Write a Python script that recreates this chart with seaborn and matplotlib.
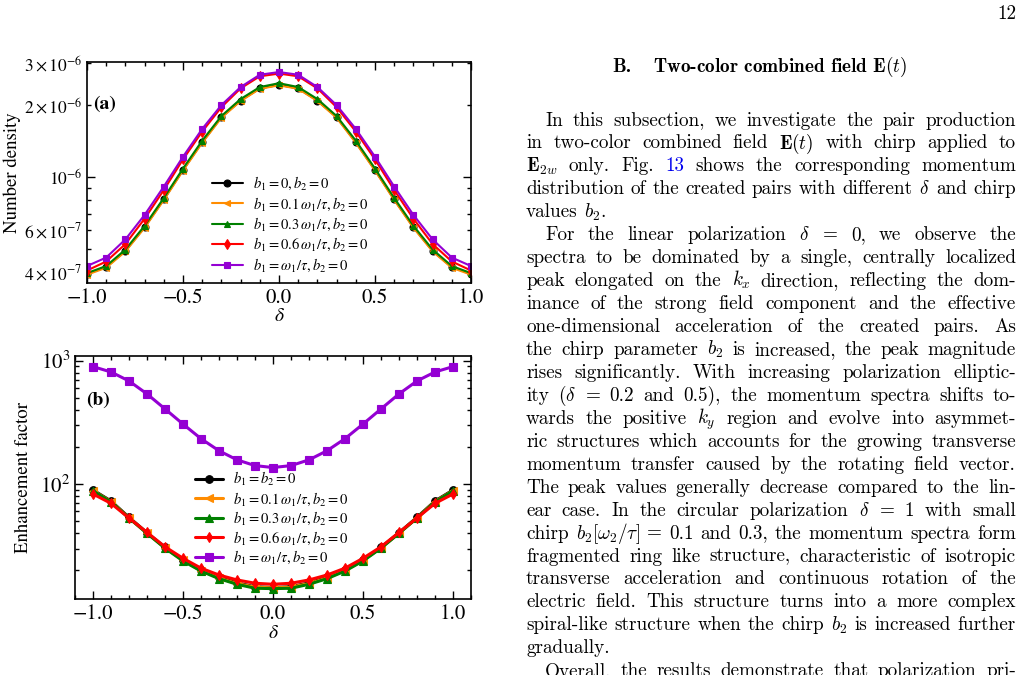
import matplotlib
matplotlib.use("Agg")
import matplotlib.pyplot as plt
import matplotlib.ticker as ticker
import seaborn as sns

# ── data ────────────────────────────────────────────────────────────────────
DELTA = [-1.0, -0.9, -0.8, -0.7, -0.6, -0.5, -0.4, -0.3, -0.2, -0.1, 0.0,
         0.1, 0.2, 0.3, 0.4, 0.5, 0.6, 0.7, 0.8, 0.9, 1.0]

# (a) number density
ND_B0   = [3.93e-7, 4.20e-7, 4.91e-7, 6.17e-7, 8.06e-7, 1.07e-6, 1.40e-6, 1.78e-6, 2.09e-6, 2.35e-6, 2.43e-6,
           2.35e-6, 2.09e-6, 1.78e-6, 1.40e-6, 1.07e-6, 8.06e-7, 6.17e-7, 4.91e-7, 4.20e-7, 3.93e-7]
ND_B01  = [3.90e-7, 4.17e-7, 4.88e-7, 6.13e-7, 8.01e-7, 1.064e-6, 1.39e-6, 1.77e-6, 2.08e-6, 2.34e-6, 2.42e-6,
           2.34e-6, 2.08e-6, 1.77e-6, 1.39e-6, 1.064e-6, 8.01e-7, 6.13e-7, 4.88e-7, 4.17e-7, 3.90e-7]
ND_B03  = [3.96e-7, 4.24e-7, 4.97e-7, 6.25e-7, 8.17e-7, 1.085e-6, 1.42e-6, 1.80e-6, 2.12e-6, 2.38e-6, 2.47e-6,
           2.38e-6, 2.12e-6, 1.80e-6, 1.42e-6, 1.085e-6, 8.17e-7, 6.25e-7, 4.97e-7, 4.24e-7, 3.96e-7]
ND_B06  = [4.06e-7, 4.43e-7, 5.24e-7, 6.69e-7, 8.82e-7, 1.185e-6, 1.55e-6, 1.96e-6, 2.35e-6, 2.64e-6, 2.71e-6,
           2.64e-6, 2.35e-6, 1.96e-6, 1.55e-6, 1.185e-6, 8.82e-7, 6.69e-7, 5.24e-7, 4.43e-7, 4.06e-7]
ND_B1   = [4.24e-7, 4.60e-7, 5.48e-7, 6.94e-7, 9.12e-7, 1.216e-6, 1.59e-6, 2.00e-6, 2.38e-6, 2.68e-6, 2.75e-6,
           2.68e-6, 2.38e-6, 2.00e-6, 1.59e-6, 1.216e-6, 9.12e-7, 6.94e-7, 5.48e-7, 4.60e-7, 4.24e-7]

# (b) enhancement factor
EF_B0   = [89.4, 72.8, 53.7, 40.3, 30.6, 24.2, 20.1, 17.5, 15.8, 14.7, 14.5,
           14.7, 15.8, 17.5, 20.1, 24.2, 30.6, 40.3, 53.7, 72.8, 89.4]
EF_B01  = [88.5, 72.0, 53.2, 40.0, 30.4, 24.0, 19.9, 17.3, 15.6, 14.6, 14.4,
           14.6, 15.6, 17.3, 19.9, 24.0, 30.4, 40.0, 53.2, 72.0, 88.5]
EF_B03  = [88.0, 71.5, 53.0, 39.8, 30.2, 23.8, 19.7, 17.1, 15.4, 14.3, 14.2,
           14.3, 15.4, 17.1, 19.7, 23.8, 30.2, 39.8, 53.0, 71.5, 88.0]
EF_B06  = [83.0, 69.7, 53.0, 40.5, 31.0, 25.0, 20.8, 18.3, 16.7, 15.7, 15.4,
           15.7, 16.7, 18.3, 20.8, 25.0, 31.0, 40.5, 53.0, 69.7, 83.0]
EF_B1   = [894, 809, 684, 537, 406, 306, 233, 186, 157, 141, 136,
           141, 157, 186, 233, 306, 406, 537, 684, 809, 894]

LABELS_A = [r"$b_1=0,b_2=0$",
            r"$b_1=0.1\,\omega_1/\tau,b_2=0$",
            r"$b_1=0.3\,\omega_1/\tau,b_2=0$",
            r"$b_1=0.6\,\omega_1/\tau,b_2=0$",
            r"$b_1=\omega_1/\tau,b_2=0$"]
LABELS_B = [r"$b_1=b_2=0$"] + LABELS_A[1:]

COLORS  = ["black", "darkorange", "green", "red", "darkviolet"]
MARKERS = ["o", "<", "^", "d", "s"]

# ── right column text ───────────────────────────────────────────────────────
HEADING_NUM  = "B."
HEADING_TEXT = r"Two-color combined field $\mathbf{E}(t)$"
PAGE_NO      = "12"
LINK_WORDS   = {"13"}

# (text, indent, justify)
BODY = [
    ("In this subsection, we investigate the pair production", True, True),
    (r"in two-color combined field $\mathbf{E}(t)$ with chirp applied to", False, True),
    (r"$\mathbf{E}_{2w}$ only. Fig. 13 shows the corresponding momentum", False, True),
    (r"distribution of the created pairs with different $\delta$ and chirp", False, True),
    (r"values $b_2$.", False, False),
    (r"For the linear polarization $\delta$ = 0, we observe the", True, True),
    ("spectra to be dominated by a single, centrally localized", False, True),
    (r"peak elongated on the $k_x$ direction, reflecting the dom-", False, True),
    ("inance of the strong field component and the effective", False, True),
    ("one-dimensional acceleration of the created pairs. As", False, True),
    (r"the chirp parameter $b_2$ is increased, the peak magnitude", False, True),
    ("rises significantly. With increasing polarization elliptic-", False, True),
    (r"ity ($\delta$ = 0.2 and 0.5), the momentum spectra shifts to-", False, True),
    (r"wards the positive $k_y$ region and evolve into asymmet-", False, True),
    ("ric structures which accounts for the growing transverse", False, True),
    ("momentum transfer caused by the rotating field vector.", False, True),
    ("The peak values generally decrease compared to the lin-", False, True),
    (r"ear case. In the circular polarization $\delta$ = 1 with small", False, True),
    (r"chirp $b_2[\omega_2/\tau]$ = 0.1 and 0.3, the momentum spectra form", False, True),
    ("fragmented ring like structure, characteristic of isotropic", False, True),
    ("transverse acceleration and continuous rotation of the", False, True),
    ("electric field. This structure turns into a more complex", False, True),
    (r"spiral-like structure when the chirp $b_2$ is increased further", False, True),
    ("gradually.", False, False),
    ("Overall, the results demonstrate that polarization pri-", True, True),
]

# ── style ───────────────────────────────────────────────────────────────────
W, H = 1021, 675
sns.set_style("ticks")
plt.rcParams.update({
    "font.family": ["STIXGeneral", "DejaVu Serif"],
    "mathtext.fontset": "stix",
    "axes.linewidth": 1.2,
    "axes.edgecolor": "black",
    "xtick.color": "black", "ytick.color": "black",
    "axes.labelcolor": "black", "text.color": "black",
})

BODY_FS  = 13.8
LEFT_X   = 526
RIGHT_X  = 1016
INDENT   = 19
LINE0_Y  = 125.5   # baseline of first body line (px from top)
LINE_DY  = 22.95


def px(x, y):
    return x / W, 1 - y / H


def style_axes(ax, ysize):
    ax.tick_params(which="both", direction="in", top=True, right=True,
                   width=1.0)
    ax.tick_params(axis="x", which="both", labelsize=15)
    ax.tick_params(axis="y", which="both", labelsize=ysize)
    ax.tick_params(which="major", length=6)
    ax.tick_params(which="minor", length=3)
    ax.xaxis.set_major_locator(ticker.MultipleLocator(0.5))
    ax.xaxis.set_minor_locator(ticker.MultipleLocator(0.1))
    for s in ax.spines.values():
        s.set_visible(True)
        s.set_linewidth(1.2)


def draw_panel(ax, series, labels, lw, ms):
    for vals, lab, c, m in zip(series, labels, COLORS, MARKERS):
        sns.lineplot(x=DELTA, y=vals, ax=ax, color=c, marker=m, lw=lw,
                     markersize=ms, markeredgecolor=c, markeredgewidth=0.8,
                     label=lab)
    ax.set_yscale("log")


fig = plt.figure(figsize=(W / 100, H / 100), dpi=100)

# ── panel (a) ───────────────────────────────────────────────────────────────
ax_a = fig.add_axes([87 / W, 1 - 283 / H, 384 / W, 221 / H])
draw_panel(ax_a, [ND_B0, ND_B01, ND_B03, ND_B06, ND_B1], LABELS_A, 1.5, 5)
ax_a.set_xlim(-1.0, 1.0)
ax_a.set_ylim(3.6e-7, 3.03e-6)
style_axes(ax_a, 12.5)
ax_a.set_xlabel(r"$\delta$", fontsize=14, labelpad=0)
ax_a.set_ylabel("Number density", fontsize=13.5, labelpad=2)
ax_a.text(0.045, 0.81, "(a)", transform=ax_a.transAxes, fontsize=14,
          fontweight="bold", ha="center", va="center")
ax_a.legend(frameon=False, fontsize=10.5, loc="center",
            bbox_to_anchor=(0.529, 0.265), handlelength=2.1,
            handletextpad=0.7, labelspacing=0.22, borderpad=0)

# ── panel (b) ───────────────────────────────────────────────────────────────
ax_b = fig.add_axes([75 / W, 1 - 599 / H, 396 / W, 243 / H])
draw_panel(ax_b, [EF_B0, EF_B01, EF_B03, EF_B06, EF_B1], LABELS_B, 2.2, 5.5)
ax_b.set_xlim(-1.1, 1.1)
ax_b.set_ylim(11.7, 1090)
style_axes(ax_b, 15)
ax_b.set_xlabel(r"$\delta$", fontsize=14, labelpad=1)
ax_b.set_ylabel("Enhancement factor", fontsize=13.5, labelpad=6)
ax_b.text(0.058, 0.819, "(b)", transform=ax_b.transAxes, fontsize=14,
          fontweight="bold", ha="center", va="center")
ax_b.legend(frameon=False, fontsize=10.5, loc="center",
            bbox_to_anchor=(0.497, 0.333), handlelength=1.9,
            handletextpad=0.7, labelspacing=0.16, borderpad=0)

# ── right column: page number, heading, justified body ──────────────────────
tkw = dict(family="cmr10", math_fontfamily="cm", fontsize=BODY_FS, va="baseline")
fig.text(*px(1016, 19), PAGE_NO, ha="right", **tkw)
fig.text(*px(612, 72), HEADING_NUM, ha="left",
         **{**tkw, "family": "cmb10"})
fig.text(*px(653, 72), HEADING_TEXT, ha="left",
         **{**tkw, "family": "cmb10"})

renderer = fig.canvas.get_renderer()
for i, (line, indent, justify) in enumerate(BODY):
    y = LINE0_Y + i * LINE_DY
    x0 = LEFT_X + (INDENT if indent else 0)
    words = line.split(" ")
    arts = []
    for w in words:
        col = "#0000ee" if w in LINK_WORDS else "black"
        arts.append(fig.text(*px(x0, y), w, ha="left", color=col, **tkw))
    widths = [a.get_window_extent(renderer).width for a in arts]
    if justify and len(words) > 1:
        gap = (RIGHT_X - x0 - sum(widths)) / (len(words) - 1)
    else:
        gap = BODY_FS * 1.389 * 0.333
    x = x0
    for a, wd in zip(arts, widths):
        a.set_position(px(x, y))
        x += wd + gap

fig.savefig("out.png", dpi=100)
